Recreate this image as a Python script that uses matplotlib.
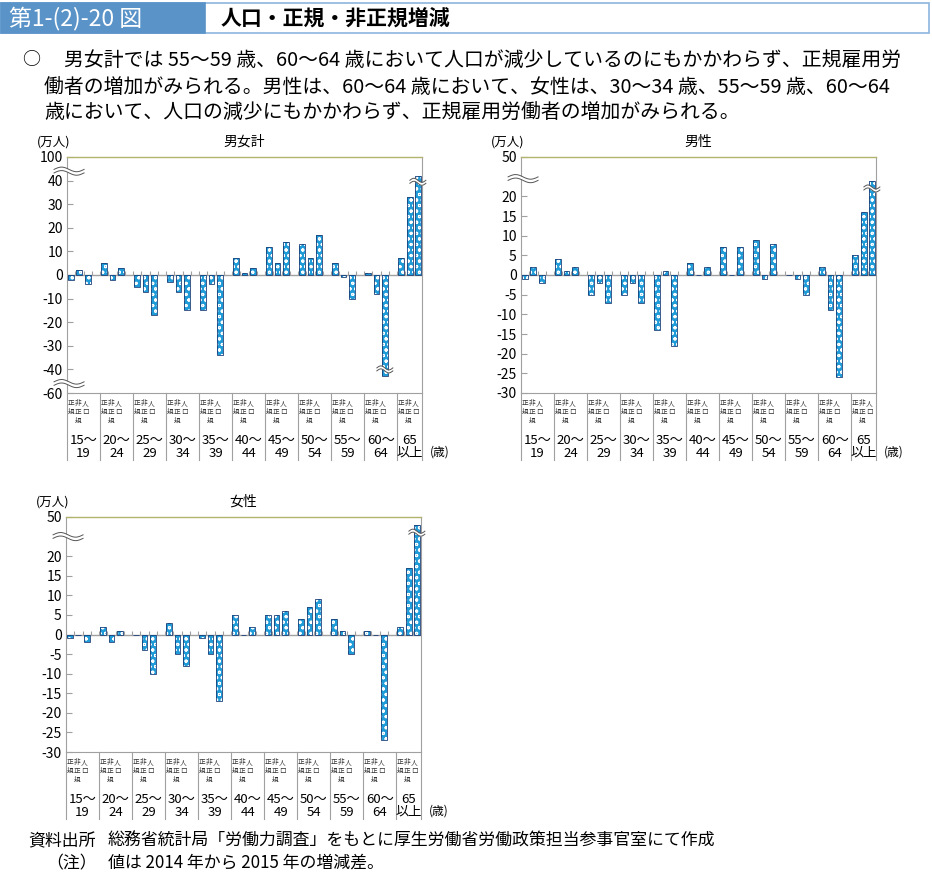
"""Population, regular and non-regular employee change by age group (2014-2015)."""
import numpy as np
import matplotlib
matplotlib.use("Agg")
import matplotlib.pyplot as plt
from matplotlib.patches import Rectangle
from matplotlib.transforms import blended_transform_factory

plt.rcParams['font.family'] = ['Noto Sans CJK JP', 'DejaVu Sans']
plt.rcParams['hatch.linewidth'] = 0.7

W, H = 932, 888

age_labels = ["15～\n19", "20～\n24", "25～\n29", "30～\n34", "35～\n39", "40～\n44",
              "45～\n49", "50～\n54", "55～\n59", "60～\n64", "65\n以上"]
series_labels = ["正\n規", "非\n正\n規", "人\n口"]

# 男女計 (values beyond the axis break are the drawn, cut-off heights)
total_regular = [-2, 5, -5, -3, -15, 7, 12, 13, 5, 1, 7]
total_nonregular = [2, -2, -7, -7, -4, 1, 5, 7, -1, -8, 33]
total_population = [-4, 3, -17, -15, -34, 3, 14, 17, -10, -43, 42]

# 男性
male_regular = [-1, 4, -5, -5, -14, 3, 7, 9, 0, 2, 5]
male_nonregular = [2, 1, -2, -2, 1, 0, 0, -1, -1, -9, 16]
male_population = [-2, 2, -7, -7, -18, 2, 7, 8, -5, -26, 24]

# 女性
female_regular = [-1, 2, 0, 3, -1, 5, 5, 4, 4, 1, 2]
female_nonregular = [0, -2, -4, -5, -5, 0, 5, 7, 1, 0, 17]
female_population = [-2, 1, -10, -8, -17, 2, 6, 9, -5, -27, 28]

total_ticks = [50, 40, 30, 20, 10, 0, -10, -20, -30, -40, -50]
total_ticklabels = ["100", "40", "30", "20", "10", "0", "-10", "-20", "-30", "-40", "-60"]
sex_ticks = [30, 20, 15, 10, 5, 0, -5, -10, -15, -20, -25, -30]
sex_ticklabels = ["50", "20", "15", "10", "5", "0", "-5", "-10", "-15", "-20", "-25", "-30"]

BAR_BLUE = "#1f9bd7"
BAR_EDGE = "#1b3f78"
GRID_GRAY = "#a0a0a0"
N_SLOTS = 43


def fx(x):
    return x / W


def fy(y):
    return 1 - y / H


def group_starts():
    return [4 * g for g in range(len(age_labels))]


def wave(ax, xc, yc, half_w_px, sx, sy, amp_px=2.3, gap_px=3.5):
    """Draw a white double wave (break mark) centred at data point (xc, yc)."""
    t = np.linspace(-1, 1, 60)
    xs = xc + t * half_w_px / sx
    base = -amp_px * np.sin(np.pi * t)
    y1 = yc + (base + gap_px / 2) / sy
    y2 = yc + (base - gap_px / 2) / sy
    ax.fill_between(xs, y2, y1, color="white", zorder=6, clip_on=False, lw=0)
    ax.plot(xs, y1, color="#555555", lw=0.7, zorder=7, clip_on=False)
    ax.plot(xs, y2, color="#555555", lw=0.7, zorder=7, clip_on=False)


def draw_panel(fig, box, title, series, ylim, ticks, ticklabels, axis_breaks, bar_breaks):
    left, top, right, bottom = box
    ax = fig.add_axes([fx(left), fy(bottom), fx(right - left), (bottom - top) / H])
    ax.set_xlim(0, N_SLOTS)
    ax.set_ylim(*ylim)
    sx = (right - left) / N_SLOTS
    sy = (bottom - top) / (ylim[1] - ylim[0])

    starts = group_starts()
    for j, vals in enumerate(series):
        xs = [s + j + 0.5 for s in starts]
        ax.bar(xs, vals, width=0.7, color=BAR_BLUE, edgecolor="white",
               hatch="ooo", linewidth=0, zorder=3)
        ax.bar(xs, vals, width=0.7, facecolor="none", edgecolor=BAR_EDGE,
               linewidth=0.6, zorder=4)

    # zero line with small slot ticks
    ax.axhline(0, color=GRID_GRAY, lw=1.0, zorder=2)
    ax.vlines(np.arange(0, N_SLOTS + 1), 0, 4 / sy, color=GRID_GRAY, lw=0.8, zorder=2)

    for side in ["left", "right", "bottom"]:
        ax.spines[side].set_color(GRID_GRAY)
    ax.spines["top"].set_color("#b3b36e")
    ax.spines["top"].set_linewidth(1.0)

    ax.set_yticks(ticks)
    ax.set_yticklabels(ticklabels, fontsize=10)
    ax.tick_params(axis="y", direction="in", length=4, width=0.8, color=GRID_GRAY, pad=3)
    ax.set_xticks([])

    # category strip under the plot
    trans = blended_transform_factory(ax.transData, ax.transAxes)
    depth = 67 / (bottom - top)
    for x in starts + [N_SLOTS]:
        ax.plot([x, x], [0, -depth], color=GRID_GRAY, lw=0.8, transform=trans, clip_on=False)
    label_offsets = [0.5, 1.35, 2.2]
    for g, s in enumerate(starts):
        for j, lab in enumerate(series_labels):
            ax.annotate(lab, xy=(s + label_offsets[j], 0), xycoords=trans,
                        xytext=(0, -6 * 0.72), textcoords="offset points",
                        ha="center", va="top", fontsize=4.8, linespacing=1.15,
                        color="#333333")
        width = 3 if g == len(starts) - 1 else 4
        ax.annotate(age_labels[g], xy=(s + width / 2, 0), xycoords=trans,
                    xytext=(0, -41 * 0.72), textcoords="offset points",
                    ha="center", va="top", fontsize=9.5, linespacing=0.95)
    ax.annotate("(歳)", xy=(1, 0), xycoords="axes fraction",
                xytext=(18 * 0.72, -59 * 0.72), textcoords="offset points",
                ha="center", va="center", fontsize=8.5)

    for yb in axis_breaks:
        wave(ax, 0.25, yb, 15, sx, sy)
    for xb, yb in bar_breaks:
        wave(ax, xb, yb, 8, sx, sy, amp_px=2.0, gap_px=3.0)

    fig.text(fx(left - 30), fy(top - 15), "(万人)", fontsize=9, ha="left", va="center")
    fig.text(fx((left + right) / 2), fy(top - 15), title, fontsize=10, ha="center", va="center")
    return ax


def main():
    fig = plt.figure(figsize=(W / 100, H / 100), dpi=100)

    # header
    fig.add_artist(Rectangle((fx(1), fy(33)), fx(928), 30 / H, transform=fig.transFigure,
                             facecolor="white", edgecolor="#8cb6df", lw=1.2))
    fig.add_artist(Rectangle((fx(1), fy(33)), fx(204), 30 / H, transform=fig.transFigure,
                             facecolor="#5a93c8", edgecolor="#5a93c8", lw=1.2))
    fig.text(fx(9), fy(18), "第1-(2)-20 図", color="white", fontsize=16.5, va="center")
    fig.text(fx(221), fy(18), "人口・正規・非正規増減", fontsize=15, va="center",
             fontweight="bold")

    # lead text
    body = 14.3
    fig.text(fx(22), fy(60), "○", fontsize=13, va="center")
    fig.text(fx(64), fy(60), "男女計では 55～59 歳、60～64 歳において人口が減少しているのにもかかわらず、正規雇用労",
             fontsize=body, va="center")
    fig.text(fx(44), fy(87), "働者の増加がみられる。男性は、60～64 歳において、女性は、30～34 歳、55～59 歳、60～64",
             fontsize=body, va="center")
    fig.text(fx(44), fy(112), "歳において、人口の減少にもかかわらず、正規雇用労働者の増加がみられる。",
             fontsize=body, va="center")

    draw_panel(fig, (67, 157, 422, 393), "男女計",
               [total_regular, total_nonregular, total_population],
               (-50, 50), total_ticks, total_ticklabels,
               axis_breaks=[44, -46], bar_breaks=[(42.5, 39.5), (38.5, -40)])
    draw_panel(fig, (521, 157, 876, 393), "男性",
               [male_regular, male_nonregular, male_population],
               (-30, 30), sex_ticks, sex_ticklabels,
               axis_breaks=[24.5], bar_breaks=[(42.5, 22)])
    draw_panel(fig, (66, 517, 421, 752), "女性",
               [female_regular, female_nonregular, female_population],
               (-30, 30), sex_ticks, sex_ticklabels,
               axis_breaks=[25], bar_breaks=[(42.5, 26)])

    # footer
    foot = 12.2
    fig.text(fx(28), fy(841), "資料出所", fontsize=foot, va="center")
    fig.text(fx(108), fy(841), "総務省統計局「労働力調査」をもとに厚生労働省労働政策担当参事官室にて作成",
             fontsize=foot, va="center")
    fig.text(fx(46), fy(863), "（注）", fontsize=foot, va="center")
    fig.text(fx(108), fy(863), "値は 2014 年から 2015 年の増減差。", fontsize=foot, va="center")

    fig.savefig("out.png", dpi=100)
    plt.close(fig)


if __name__ == "__main__":
    main()
